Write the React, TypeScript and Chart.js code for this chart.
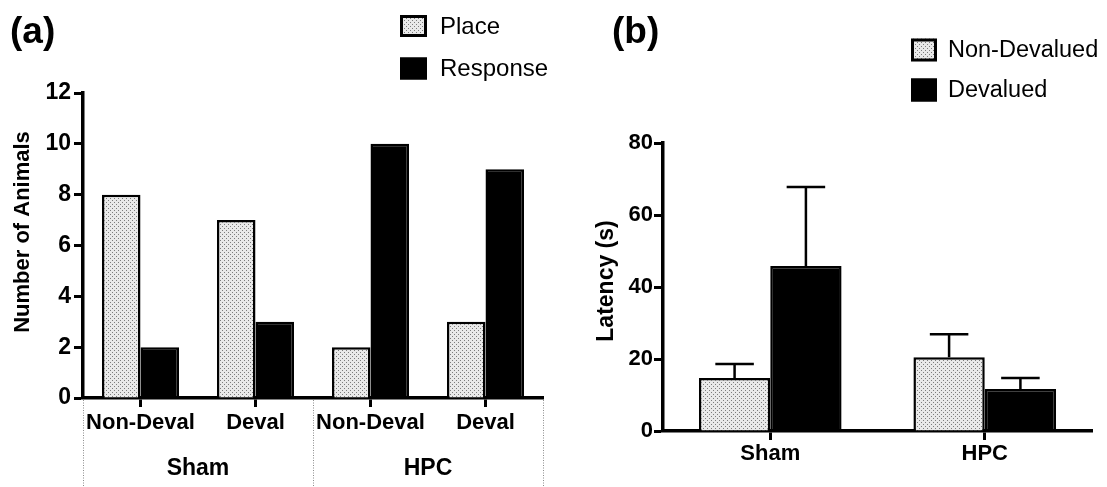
import React, { useEffect, useRef } from "react";
import { Chart, registerables } from "chart.js";

Chart.register(...registerables);

// ---------- data ----------
const categoriesA = ["Non-Deval", "Deval", "Non-Deval", "Deval"];
const groupsA = ["Sham", "HPC"];
const placeCounts = [8, 7, 2, 3];
const responseCounts = [2, 3, 10, 9];
const yTicksA = [0, 2, 4, 6, 8, 10, 12];

const categoriesB = ["Sham", "HPC"];
const nonDevaluedLatency = [14.7, 20.5];
const devaluedLatency = [45.8, 11.7];
const nonDevaluedSem = [3.9, 6.4];
const devaluedSem = [22.0, 3.0];
const yTicksB = [0, 20, 40, 60, 80];

const FONT = "'Liberation Sans', Arial, Helvetica, sans-serif";

function makePattern(): CanvasPattern | string {
  const c = document.createElement("canvas");
  c.width = 4;
  c.height = 4;
  const g = c.getContext("2d");
  if (!g) return "#d0d0d0";
  g.fillStyle = "#e9e9e9";
  g.fillRect(0, 0, 4, 4);
  g.fillStyle = "#7c7c7c";
  g.fillRect(0, 0, 1, 1);
  g.fillRect(2, 2, 1, 1);
  return g.createPattern(c, "repeat") || "#d0d0d0";
}

const decoPlugin = {
  id: "deco",
  afterDatasetsDraw(chart: any, _args: any, opts: any) {
    const ctx: CanvasRenderingContext2D = chart.ctx;
    const ys = chart.scales.y;
    ctx.save();
    if (opts.errors) {
      chart.data.datasets.forEach((ds: any, di: number) => {
        const errs = opts.errors[di];
        if (!errs) return;
        const meta = chart.getDatasetMeta(di);
        meta.data.forEach((el: any, i: number) => {
          const v = ds.data[i];
          const top = ys.getPixelForValue(v + errs[i]);
          const half = el.width * 0.27;
          ctx.strokeStyle = "#000";
          ctx.lineWidth = 2.5;
          ctx.beginPath();
          ctx.moveTo(el.x, el.y);
          ctx.lineTo(el.x, top);
          ctx.moveTo(el.x - half, top);
          ctx.lineTo(el.x + half, top);
          ctx.stroke();
        });
      });
    }
    ctx.restore();
  },
  afterDraw(chart: any, _args: any, opts: any) {
    const ctx: CanvasRenderingContext2D = chart.ctx;
    const xs = chart.scales.x;
    const area = chart.chartArea;
    ctx.save();
    // panel tag
    ctx.fillStyle = "#000";
    ctx.font = `bold 37px ${FONT}`;
    ctx.textBaseline = "middle";
    ctx.textAlign = "left";
    ctx.fillText(opts.tag, opts.tagX, opts.tagY);
    // y title
    ctx.save();
    ctx.translate(opts.yTitleX, opts.yTitleY);
    ctx.rotate(-Math.PI / 2);
    ctx.textAlign = "center";
    ctx.font = `bold ${opts.yTitleSize}px ${FONT}`;
    ctx.fillText(opts.yTitle, 0, 0);
    ctx.restore();
    // legend
    ctx.font = `${opts.legendSize}px ${FONT}`;
    ctx.textAlign = "left";
    chart.data.datasets.forEach((ds: any, i: number) => {
      const cy = opts.legendY[i];
      const bx = opts.legendX;
      const bw = opts.boxW;
      const bh = opts.boxH;
      ctx.fillStyle = ds.backgroundColor;
      ctx.fillRect(bx, cy - bh / 2, bw, bh);
      ctx.strokeStyle = "#000";
      ctx.lineWidth = 3;
      ctx.strokeRect(bx + 1.5, cy - bh / 2 + 1.5, bw - 3, bh - 3);
      ctx.fillStyle = "#000";
      ctx.fillText(ds.label, opts.textX, cy + 1);
    });
    // group labels and separators
    if (opts.groups) {
      const n = chart.data.labels.length;
      const step = (area.right - area.left) / n;
      const per = n / opts.groups.length;
      ctx.strokeStyle = "#8c8c8c";
      ctx.lineWidth = 1;
      ctx.setLineDash([1, 1.5]);
      for (let g = 0; g <= opts.groups.length; g++) {
        const x = Math.round(area.left + g * per * step) + 0.5;
        ctx.beginPath();
        ctx.moveTo(x, area.bottom + 2);
        ctx.lineTo(x, chart.height);
        ctx.stroke();
      }
      ctx.setLineDash([]);
      ctx.fillStyle = "#000";
      ctx.font = `bold ${opts.groupSize}px ${FONT}`;
      ctx.textAlign = "center";
      opts.groups.forEach((name: string, g: number) => {
        const x0 = xs.getPixelForValue(g * per);
        const x1 = xs.getPixelForValue(g * per + per - 1);
        ctx.fillText(name, (x0 + x1) / 2, opts.groupY);
      });
    }
    ctx.restore();
  },
};

function scales(opts: {
  xHeight: number;
  yWidth: number;
  max: number;
  ticks: number[];
  tickLen: number;
  xPad: number;
  yPad: number;
  xFont: number;
  yFont: number;
}) {
  return {
    x: {
      afterFit: (s: any) => {
        s.height = opts.xHeight;
      },
      grid: {
        offset: false,
        drawOnChartArea: false,
        drawTicks: true,
        tickLength: opts.tickLen,
        tickWidth: 3,
        tickColor: "#000",
      },
      border: { display: true, color: "#000", width: 3.5 },
      ticks: {
        color: "#000",
        padding: opts.xPad,
        autoSkip: false,
        maxRotation: 0,
        minRotation: 0,
        font: { family: FONT, size: opts.xFont, weight: "bold" },
      },
    },
    y: {
      min: 0,
      max: opts.max,
      afterFit: (s: any) => {
        s.width = opts.yWidth;
      },
      afterBuildTicks: (s: any) => {
        s.ticks = opts.ticks.map((v) => ({ value: v }));
      },
      grid: {
        drawOnChartArea: false,
        drawTicks: true,
        tickLength: opts.tickLen,
        tickWidth: 3,
        tickColor: "#000",
      },
      border: { display: true, color: "#000", width: 3.5 },
      ticks: {
        color: "#000",
        padding: opts.yPad,
        font: { family: FONT, size: opts.yFont, weight: "bold" },
      },
    },
  };
}

function makeConfigA(pattern: any) {
  return {
    type: "bar",
    data: {
      labels: categoriesA,
      datasets: [
        {
          label: "Place",
          data: placeCounts,
          backgroundColor: pattern,
          borderColor: "#000",
          borderWidth: 2.5,
          barPercentage: 1,
          categoryPercentage: 0.67,
        },
        {
          label: "Response",
          data: responseCounts,
          backgroundColor: "#000",
          borderColor: "#000",
          borderWidth: 2.5,
          barPercentage: 1,
          categoryPercentage: 0.67,
        },
      ],
    },
    options: {
      responsive: false,
      animation: false,
      devicePixelRatio: 1,
      layout: { padding: { top: 93, right: 32, left: 0, bottom: 0 } },
      plugins: {
        legend: { display: false },
        tooltip: { enabled: false },
        deco: {
          tag: "(a)",
          tagX: 10,
          tagY: 33,
          yTitle: "Number of Animals",
          yTitleX: 23,
          yTitleY: 232,
          yTitleSize: 22,
          legendX: 400,
          legendY: [26, 68.5],
          legendSize: 24,
          boxW: 27,
          boxH: 22,
          textX: 440,
          groups: groupsA,
          groupY: 469,
          groupSize: 23,
        },
      },
      scales: scales({
        xHeight: 89,
        yWidth: 83,
        max: 12,
        ticks: yTicksA,
        tickLen: 9,
        xPad: 3,
        yPad: 3,
        xFont: 22,
        yFont: 23,
      }),
    },
    plugins: [decoPlugin],
  };
}

function makeConfigB(pattern: any) {
  return {
    type: "bar",
    data: {
      labels: categoriesB,
      datasets: [
        {
          label: "Non-Devalued",
          data: nonDevaluedLatency,
          backgroundColor: pattern,
          borderColor: "#000",
          borderWidth: 2.5,
          barPercentage: 1,
          categoryPercentage: 0.665,
        },
        {
          label: "Devalued",
          data: devaluedLatency,
          backgroundColor: "#000",
          borderColor: "#000",
          borderWidth: 2.5,
          barPercentage: 1,
          categoryPercentage: 0.665,
        },
      ],
    },
    options: {
      responsive: false,
      animation: false,
      devicePixelRatio: 1,
      layout: { padding: { top: 143, right: 15, left: 0, bottom: 0 } },
      plugins: {
        legend: { display: false },
        tooltip: { enabled: false },
        deco: {
          tag: "(b)",
          tagX: 37,
          tagY: 33,
          yTitle: "Latency (s)",
          yTitleX: 32,
          yTitleY: 281,
          yTitleSize: 23,
          legendX: 336,
          legendY: [50, 90],
          legendSize: 23.5,
          boxW: 26,
          boxH: 23,
          textX: 373,
        errors: [nonDevaluedSem, devaluedSem],
        },
      },
      scales: scales({
        xHeight: 56,
        yWidth: 88,
        max: 80,
        ticks: yTicksB,
        tickLen: 9,
        xPad: 1,
        yPad: 1,
        xFont: 22,
        yFont: 22,
      }),
    },
    plugins: [decoPlugin],
  };
}

export default function App() {
  const refA = useRef<HTMLCanvasElement | null>(null);
  const refB = useRef<HTMLCanvasElement | null>(null);

  useEffect(() => {
    const pattern = makePattern();
    const a = new Chart(refA.current as HTMLCanvasElement, makeConfigA(pattern) as any);
    const b = new Chart(refB.current as HTMLCanvasElement, makeConfigB(pattern) as any);
    return () => {
      a.destroy();
      b.destroy();
    };
  }, []);

  return (
    <div
      style={{
        position: "absolute",
        left: 0,
        top: 0,
        width: 1107,
        height: 487,
        background: "#fff",
        overflow: "hidden",
      }}
    >
      <canvas
        ref={refA}
        width={575}
        height={487}
        style={{ position: "absolute", left: 0, top: 0, width: 575, height: 487 }}
      />
      <canvas
        ref={refB}
        width={532}
        height={487}
        style={{ position: "absolute", left: 575, top: 0, width: 532, height: 487 }}
      />
    </div>
  );
}
